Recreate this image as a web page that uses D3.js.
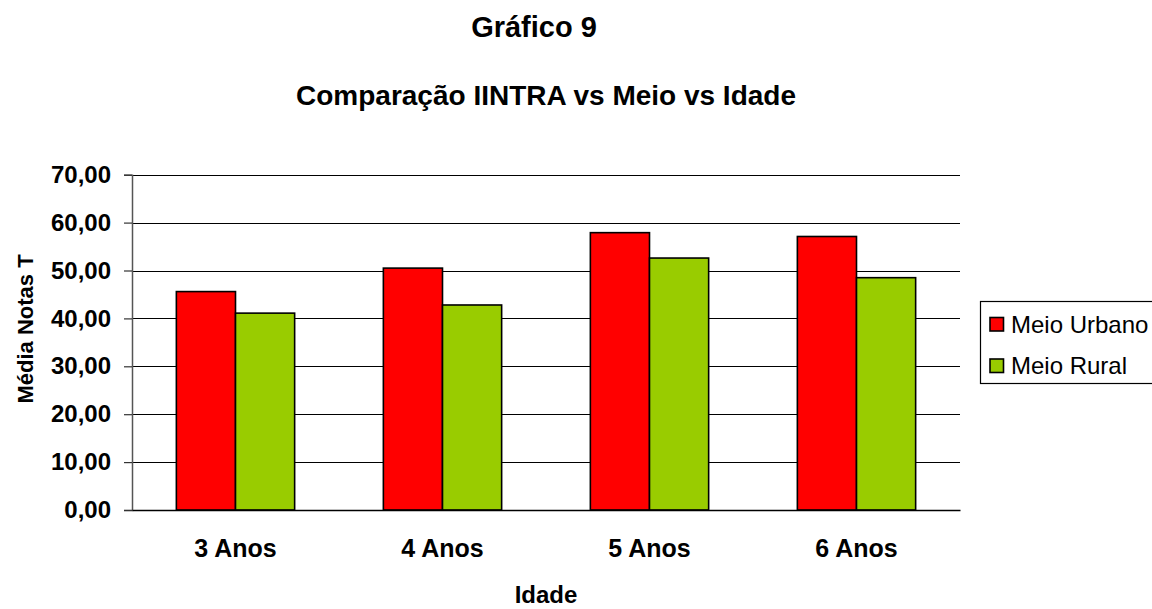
<!DOCTYPE html>
<html>
<head>
<meta charset="utf-8">
<script src="https://cdn.jsdelivr.net/npm/d3@7"></script>
<style>
  html, body { margin: 0; padding: 0; background: #fff; }
  svg { display: block; font-family: "Liberation Sans", Arial, sans-serif; }
</style>
</head>
<body>
<svg id="chart" width="1152" height="609"></svg>
<script>
const categories = ["3 Anos", "4 Anos", "5 Anos", "6 Anos"];
const seriesNames = ["Meio Urbano", "Meio Rural"];
const urbano = [45.6, 50.5, 57.9, 57.1];
const rural = [41.1, 42.8, 52.6, 48.5];
const yTicks = [0, 10, 20, 30, 40, 50, 60, 70];
const colors = ["#FF0000", "#99CC00"];

const svg = d3.select("#chart");
const m = { left: 132, right: 960, top: 174.7, bottom: 510 };

const x = d3.scaleBand().domain(categories).range([m.left, m.right]).paddingInner(0).paddingOuter(0);
const x1 = d3.scaleBand().domain(seriesNames).range([0, x.bandwidth()]).paddingInner(0).paddingOuter(0.75);
const y = d3.scaleLinear().domain([0, 70]).range([m.bottom, m.top]);
const fmt = v => d3.format(".2f")(v).replace(".", ",");

// titles
svg.append("text").attr("x", 534).attr("y", 36.5).attr("text-anchor", "middle")
  .attr("font-size", 29).attr("font-weight", "bold").text("Gráfico 9");
svg.append("text").attr("x", 546).attr("y", 104.5).attr("text-anchor", "middle")
  .attr("font-size", 28).attr("font-weight", "bold").text("Comparação IINTRA vs Meio vs Idade");

// gridlines
svg.append("g").selectAll("line").data(yTicks.filter(d => d > 0)).join("line")
  .attr("x1", m.left).attr("x2", m.right)
  .attr("y1", d => Math.round(y(d)) + 0.5).attr("y2", d => Math.round(y(d)) + 0.5)
  .attr("stroke", "#000").attr("stroke-width", 1.2);

// y axis
const yAxis = d3.axisLeft(y).tickValues(yTicks).tickFormat(fmt).tickSize(8).tickPadding(13);
const gy = svg.append("g").attr("transform", `translate(${m.left},0)`).call(yAxis);
gy.select(".domain").attr("stroke", "#555").attr("stroke-width", 1.5);
gy.selectAll(".tick line").attr("stroke", "#333").attr("stroke-width", 1.2);
gy.selectAll(".tick text").attr("font-size", 24).attr("font-weight", "bold").attr("fill", "#000")
  .attr("font-family", "Liberation Sans, Arial, sans-serif");

// bars
const data = categories.map((c, i) => ({ cat: c, vals: [urbano[i], rural[i]] }));
const groups = svg.append("g").selectAll("g").data(data).join("g")
  .attr("transform", d => `translate(${x(d.cat)},0)`);
groups.selectAll("rect").data(d => d.vals.map((v, j) => ({ v, s: seriesNames[j], j }))).join("rect")
  .attr("x", d => x1(d.s)).attr("width", x1.bandwidth())
  .attr("y", d => y(d.v)).attr("height", d => y(0) - y(d.v))
  .attr("fill", d => colors[d.j]).attr("stroke", "#000").attr("stroke-width", 1.6);

// x axis
const xAxis = d3.axisBottom(x).tickSize(0).tickPadding(29);
const gx = svg.append("g").attr("transform", `translate(0,${m.bottom})`).call(xAxis);
gx.select(".domain").attr("stroke", "#000").attr("stroke-width", 1.5);
gx.selectAll(".tick text").attr("font-size", 25).attr("font-weight", "bold").attr("fill", "#000")
  .attr("font-family", "Liberation Sans, Arial, sans-serif");

// axis titles
svg.append("text").attr("x", 546).attr("y", 603).attr("text-anchor", "middle")
  .attr("font-size", 24).attr("font-weight", "bold").text("Idade");
svg.append("text").attr("transform", "translate(33,329) rotate(-90)").attr("text-anchor", "middle")
  .attr("font-size", 22).attr("font-weight", "bold").text("Média Notas T");

// legend
const lg = svg.append("g");
lg.append("rect").attr("x", 980.5).attr("y", 301.5).attr("width", 200).attr("height", 82)
  .attr("fill", "#fff").attr("stroke", "#000").attr("stroke-width", 1.2);
const items = lg.selectAll("g").data(seriesNames).join("g")
  .attr("transform", (d, i) => `translate(0,${i * 41.5})`);
items.append("rect").attr("x", 990).attr("y", 317.5).attr("width", 13.5).attr("height", 13.5)
  .attr("fill", (d, i) => colors[i]).attr("stroke", "#000").attr("stroke-width", 1.6);
items.append("text").attr("x", 1011).attr("y", 332.5).attr("font-size", 24).text(d => d);
</script>
</body>
</html>
